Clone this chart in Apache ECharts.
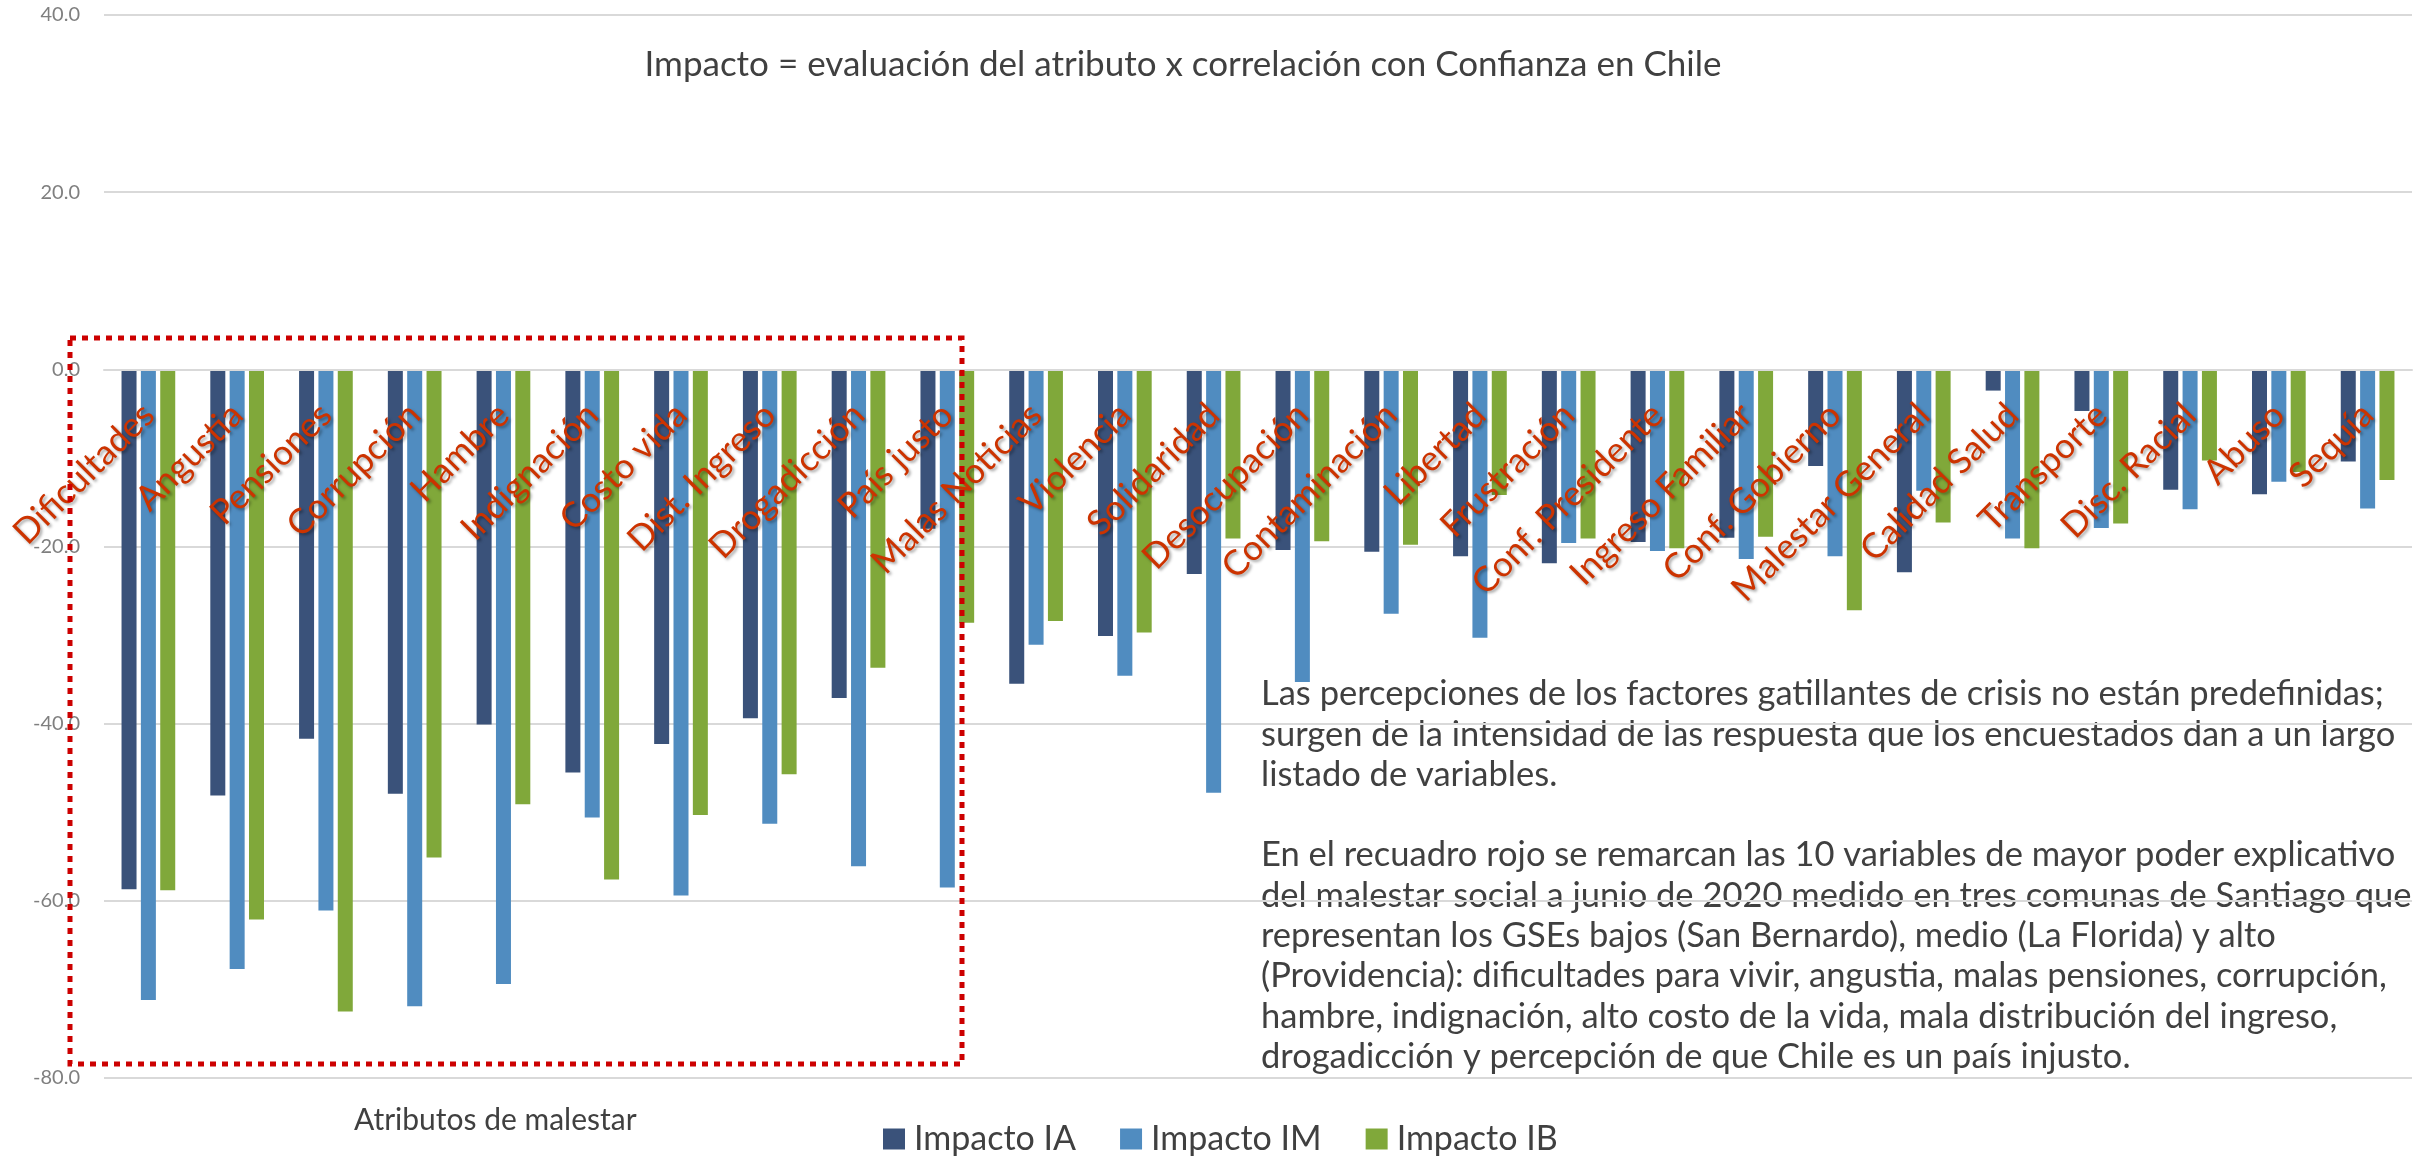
<!DOCTYPE html>
<html>
<head>
<meta charset="utf-8">
<title>Impacto</title>
<script src="https://cdn.jsdelivr.net/npm/echarts@6.0.0/dist/echarts.min.js"></script>
<style>
    html, body { margin: 0; padding: 0; background: #fff; }
    #impacto_con { width: 2435px; height: 1156px; }
</style>
</head>
<body>
<div id="impacto_con"></div>
<script>
const categories = ['Dificultades', 'Angustia', 'Pensiones', 'Corrupción', 'Hambre', 'Indignación', 'Costo vida',
    'Dist. Ingreso', 'Drogadicción', 'País justo', 'Malas Noticias', 'Violencia', 'Solidaridad', 'Desocupación',
    'Contaminación', 'Libertad', 'Frustración', 'Conf. Presidente', 'Ingreso Familiar', 'Conf. Gobierno',
    'Malestar General', 'Calidad Salud', 'Transporte', 'Disc. Racial', 'Abuso', 'Sequía'];

const impactoIA = [-58.7, -48.1, -41.7, -47.9, -40.1, -45.5, -42.3, -39.4, -37.1, -18.0, -35.5, -30.1, -23.1,
    -20.4, -20.6, -21.1, -21.9, -19.5, -19.0, -10.9, -22.9, -2.4, -4.7, -13.6, -14.1, -10.4];
const impactoIM = [-71.2, -67.7, -61.1, -71.9, -69.4, -50.6, -59.4, -51.3, -56.1, -58.5, -31.1, -34.6, -47.8,
    -35.3, -27.6, -30.3, -19.6, -20.5, -21.4, -21.1, -13.7, -19.1, -17.9, -15.8, -12.7, -15.7];
const impactoIB = [-58.8, -62.1, -72.5, -55.1, -49.1, -57.6, -50.3, -45.7, -33.7, -28.6, -28.4, -29.7, -19.1,
    -19.4, -19.8, -14.2, -19.1, -20.2, -18.9, -27.2, -17.3, -20.2, -17.4, -10.3, -11.6, -12.5];

const seriesNames = ['Impacto IA', 'Impacto IM', 'Impacto IB'];
const yTicks = { min: -80, max: 40, interval: 20 };

const chartTitle = 'Impacto = evaluación del atributo x correlación con Confianza en Chile';
const axisTitle = 'Atributos de malestar';
const noteLines = [
    'Las percepciones de los factores gatillantes de crisis no están predefinidas;',
    'surgen de la intensidad de las respuesta que los encuestados dan a un largo',
    'listado de variables.',
    '',
    'En el recuadro rojo se remarcan las 10 variables de mayor poder explicativo',
    'del malestar social a junio de 2020 medido en tres comunas de Santiago que',
    'representan los GSEs bajos (San Bernardo), medio (La Florida) y alto',
    '(Providencia): dificultades para vivir, angustia, malas pensiones, corrupción,',
    'hambre, indignación, alto costo de la vida, mala distribución del ingreso,',
    'drogadicción y percepción de que Chile es un país injusto.'
];

const chart = echarts.init(document.getElementById('impacto_con'));
const font = 'Lato';

// plot area in px, the category axis sits on the 0 line
const gridTop = 15;
const gridBottom = 78;
const plotHeight = 1156 - gridTop - gridBottom;
const zeroOffset = -plotHeight * (0 - yTicks.min) / (yTicks.max - yTicks.min);

const option = {
    animation: false,
    color: ['#3a527a', '#508cc0', '#80a83a'],
    textStyle: { fontFamily: font },
    grid: {
        left: 104,
        right: 23,
        top: gridTop,
        bottom: gridBottom,
        containLabel: false,
        outerBoundsMode: 'none'
    },
    legend: {
        data: seriesNames,
        left: 878,
        top: 1117,
        icon: 'rect',
        itemWidth: 22,
        itemHeight: 21,
        itemGap: 44,
        textStyle: {
            fontFamily: font,
            fontSize: 34,
            color: '#404040',
            padding: [0, 0, 0, 4]
        }
    },
    xAxis: {
        type: 'category',
        data: categories,
        position: 'bottom',
        offset: zeroOffset,
        z: 5,
        axisLine: { show: true, onZero: false, lineStyle: { color: '#d9d9d9', width: 2 } },
        axisTick: { show: false },
        axisLabel: {
            interval: 0,
            rotate: 45,
            margin: 40,
            fontFamily: font,
            fontSize: 35,
            color: '#cc3300',
            textShadowColor: 'rgba(0,0,0,0.35)',
            textShadowBlur: 3,
            textShadowOffsetX: 2,
            textShadowOffsetY: 2
        }
    },
    yAxis: {
        type: 'value',
        min: yTicks.min,
        max: yTicks.max,
        interval: yTicks.interval,
        axisLine: { show: false },
        axisTick: { show: false },
        axisLabel: {
            margin: 24,
            fontFamily: font,
            fontSize: 20,
            color: '#7f7f7f',
            formatter: function (v) { return v.toFixed(1); }
        },
        splitLine: { lineStyle: { color: '#d9d9d9', width: 2 } }
    },
    series: [
        { name: seriesNames[0], type: 'bar', data: impactoIA, barWidth: 15, barGap: '29%' },
        { name: seriesNames[1], type: 'bar', data: impactoIM, barWidth: 15, barGap: '29%' },
        { name: seriesNames[2], type: 'bar', data: impactoIB, barWidth: 15, barGap: '29%' }
    ],
    graphic: [
        {
            type: 'text',
            x: 1183,
            y: 65,
            style: {
                text: chartTitle,
                fontFamily: font,
                fontSize: 35,
                fill: '#404040',
                textAlign: 'center',
                textVerticalAlign: 'middle'
            }
        },
        {
            type: 'text',
            x: 354,
            y: 1120,
            style: {
                text: axisTitle,
                fontFamily: font,
                fontSize: 30,
                fill: '#404040',
                textVerticalAlign: 'middle'
            }
        },
        {
            type: 'text',
            x: 1261,
            y: 674,
            style: {
                text: noteLines.join('\n'),
                fontFamily: font,
                fontSize: 34.5,
                lineHeight: 40.3,
                fill: '#404040',
                textVerticalAlign: 'top'
            }
        },
        {
            // recuadro rojo: las 10 variables principales
            type: 'rect',
            z: 100,
            shape: { x: 70, y: 338, width: 892, height: 726 },
            style: {
                fill: 'none',
                stroke: '#cc0000',
                lineWidth: 5,
                lineDash: [6, 6]
            }
        }
    ]
};

chart.setOption(option);

window.addEventListener('resize', function () {
    chart.resize();
});
</script>
</body>
</html>
